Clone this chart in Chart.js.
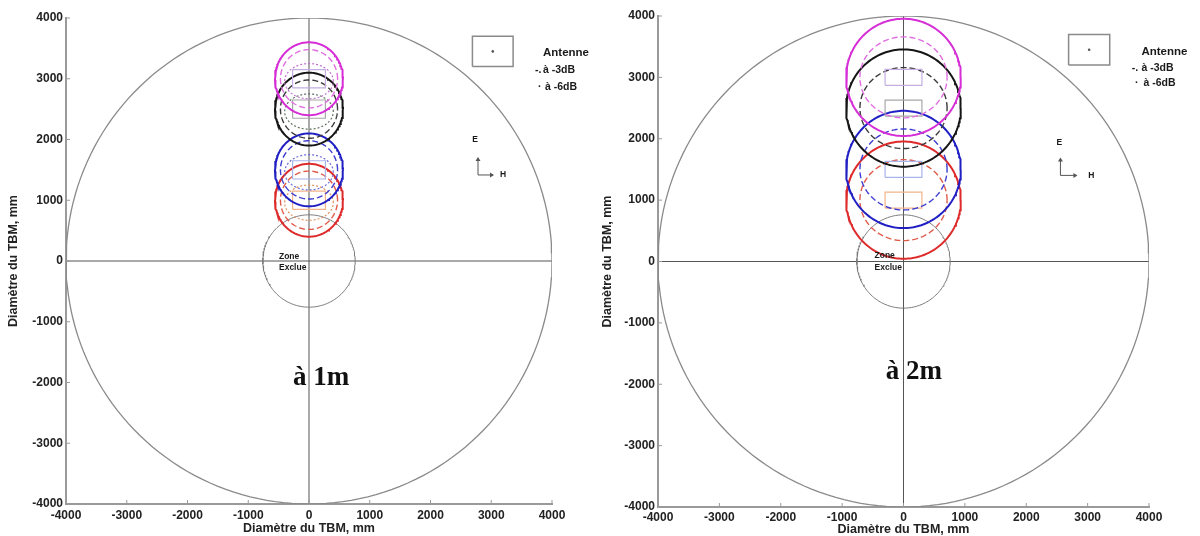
<!DOCTYPE html>
<html><head><meta charset="utf-8">
<script src="https://cdn.jsdelivr.net/npm/chart.js@4/dist/chart.umd.min.js"></script>
<style>
body{margin:0;background:#fff;width:1200px;height:536px;overflow:hidden;position:relative}
.p{position:absolute;top:0;width:600px;height:536px}
</style></head><body>
<div class="p" style="left:0"><canvas id="c0" width="600" height="536"></canvas></div>
<div class="p" style="left:600px"><canvas id="c1" width="600" height="536"></canvas></div>
<script>
// ---------- data ----------
const tickValues = [-4000, -3000, -2000, -1000, 0, 1000, 2000, 3000, 4000];
const panelTitles = ['à 1m', 'à 2m'];
const tbmRadius = 4000;                     // mm
const zoneRadius = 760;                     // mm, "Zone Exclue"
const antennaCentreY = [3000, 2500, 1500, 1000];   // mm
const lobeOuterRx = [560, 935];             // per panel (1m, 2m)
const lobeOuterRy = [600, 955];
const lobeMidRx = [470, 710];
const lobeMidRy = [480, 660];
const lobeInnerRx = [400, 0];
const lobeInnerRy = [290, 0];
const antennaHalfW = [270, 300];
const antennaHalfH = [150, 130];
const legendBoxX = [2690, 3360];
const legendBoxY = [3200, 3700];

// ---------- styles ----------
const solidColours = ['#d62ed6', '#151515', '#1f1fc4', '#de2a2a'];
const dashColours  = ['#e06ee0', '#3a3a3a', '#3c3cd0', '#e05a4a'];
const innerColours = ['#c070d0', '#607060', '#6a6ad8', '#e0905a'];
const boxColours   = ['#c4aee2', '#a8a8a8', '#a8b4ea', '#f2b48a'];
const layouts = [
  {padTop: 18, padRight: 48, yW: 66, xH: 32, yTitlePad: 6, xTitlePad: 0, xTickPad: 4},
  {padTop: 16, padRight: 51, yW: 58, xH: 29, yTitlePad: 0, xTitlePad: -1, xTickPad: 3}
];
const annotations = [
  {zone: [-494, 66, -115], big: [198, -2041], legend: [3852, 3424, 3144, 2864, 3720, 3770],
   eh: {E: [2733, 1992], corner: [2782, 1416], up: [2782, 1695], right: [3029, 1416], H: [3193, 1416]}},
  {zone: [-472, 98, -98], big: [171, -1909], legend: [3876, 3409, 3148, 2904, 3720, 3770],
   eh: {E: [2541, 1941], corner: [2557, 1403], up: [2557, 1680], right: [2818, 1403], H: [3062, 1403]}}
];

function ellipse(cx, cy, rx, ry) {
  const pts = [];
  for (let i = 0; i <= 180; i++) {
    const t = i / 180 * 2 * Math.PI;
    pts.push({x: cx + rx * Math.cos(t), y: cy + ry * Math.sin(t)});
  }
  return pts;
}
function rect(x0, x1, y0, y1) {
  return [{x: x0, y: y0}, {x: x1, y: y0}, {x: x1, y: y1}, {x: x0, y: y1}, {x: x0, y: y0}];
}
function lineDs(data, color, width, dash) {
  return {type: 'line', data, borderColor: color, borderWidth: width, borderDash: dash || [],
          pointRadius: 0, fill: false, tension: 0, showLine: true};
}

function buildDatasets(p) {
  const ds = [];
  antennaCentreY.forEach((cy, i) => {
    ds.push(lineDs(ellipse(0, cy, lobeOuterRx[p], lobeOuterRy[p]), solidColours[i], 2));
    ds.push(lineDs(ellipse(0, cy, lobeMidRx[p], lobeMidRy[p]), dashColours[i], 1.4, [6, 3]));
    if (lobeInnerRx[p] > 0)
      ds.push(lineDs(ellipse(0, cy - 40, lobeInnerRx[p], lobeInnerRy[p]), innerColours[i], 1.2, [2, 2]));
    ds.push(lineDs(rect(-antennaHalfW[p], antennaHalfW[p], cy - antennaHalfH[p], cy + antennaHalfH[p]), boxColours[i], 1.2));
  });
  ds.push(lineDs(ellipse(0, 0, zoneRadius, zoneRadius), '#7a7a7a', 1));
  ds.push(lineDs(ellipse(0, 0, tbmRadius, tbmRadius), '#8a8a8a', 1.3));
  ds.push(lineDs([{x: -4000, y: 0}, {x: 4000, y: 0}], '#555', 1));
  ds.push(lineDs([{x: 0, y: -4000}, {x: 0, y: 4000}], '#555', 1));
  ds.push(lineDs(rect(legendBoxX[0], legendBoxX[1], legendBoxY[0], legendBoxY[1]), '#8a8a8a', 1.5));
  ds.push({type: 'scatter', data: [{x: (legendBoxX[0] + legendBoxX[1]) / 2, y: (legendBoxY[0] + legendBoxY[1]) / 2}],
           pointRadius: 1.3, backgroundColor: '#555', borderWidth: 0});
  return ds;
}

const annotPlugin = {
  id: 'annot',
  afterDraw(chart) {
    const p = chart.options.plugins.annot.panel;
    const a = annotations[p];
    const xs = chart.scales.x, ys = chart.scales.y, ctx = chart.ctx;
    const X = v => xs.getPixelForValue(v), Y = v => ys.getPixelForValue(v);
    ctx.save();
    // inside ticks
    ctx.strokeStyle = '#999'; ctx.lineWidth = 1;
    tickValues.forEach(v => {
      ctx.beginPath(); ctx.moveTo(X(v), ys.bottom); ctx.lineTo(X(v), ys.bottom - 4); ctx.stroke();
      ctx.beginPath(); ctx.moveTo(xs.left, Y(v)); ctx.lineTo(xs.left + 4, Y(v)); ctx.stroke();
    });
    ctx.fillStyle = '#1a1a1a';
    ctx.textBaseline = 'middle'; ctx.textAlign = 'left';
    ctx.font = 'bold 8.5px "Liberation Sans", Arial, sans-serif';
    ctx.fillText('Zone', X(a.zone[0]), Y(a.zone[1]));
    ctx.fillText('Exclue', X(a.zone[0]), Y(a.zone[2]));
    ctx.font = 'bold 11.5px "Liberation Sans", Arial, sans-serif';
    ctx.fillText('Antenne', X(a.legend[0]), Y(a.legend[1]));
    ctx.font = 'bold 10.5px "Liberation Sans", Arial, sans-serif';
    ctx.fillText('à -3dB', X(a.legend[0]), Y(a.legend[2]));
    ctx.fillText('à -6dB', X(a.legend[0]) + 2, Y(a.legend[3]));
    ctx.fillText('-.', X(a.legend[4]), Y(a.legend[2]));
    ctx.fillText('·', X(a.legend[5]), Y(a.legend[3]));
    // E / H
    ctx.font = 'bold 8.5px "Liberation Sans", Arial, sans-serif';
    ctx.textAlign = 'center';
    ctx.fillText('E', X(a.eh.E[0]), Y(a.eh.E[1]));
    ctx.fillText('H', X(a.eh.H[0]), Y(a.eh.H[1]));
    ctx.strokeStyle = '#555'; ctx.lineWidth = 1;
    const cx = X(a.eh.corner[0]), cy = Y(a.eh.corner[1]);
    const ux = X(a.eh.up[0]), uy = Y(a.eh.up[1]);
    const rx = X(a.eh.right[0]), ry = Y(a.eh.right[1]);
    ctx.beginPath(); ctx.moveTo(ux, uy); ctx.lineTo(cx, cy); ctx.lineTo(rx, ry); ctx.stroke();
    ctx.fillStyle = '#555';
    ctx.beginPath(); ctx.moveTo(ux, uy - 1); ctx.lineTo(ux - 2.5, uy + 3); ctx.lineTo(ux + 2.5, uy + 3); ctx.fill();
    ctx.beginPath(); ctx.moveTo(rx + 1, ry); ctx.lineTo(rx - 3, ry - 2.5); ctx.lineTo(rx - 3, ry + 2.5); ctx.fill();
    // big label
    ctx.fillStyle = '#111';
    ctx.textAlign = 'center'; ctx.textBaseline = 'alphabetic';
    ctx.font = 'bold 27px "Liberation Serif", "Times New Roman", serif';
    ctx.fillText(panelTitles[p], X(a.big[0]), Y(a.big[1]));
    ctx.restore();
  }
};

function makeChart(p) {
  const L = layouts[p];
  const tickFont = {family: '"Liberation Sans", Arial, sans-serif', size: 12, weight: 'bold'};
  const titleFont = {family: '"Liberation Sans", Arial, sans-serif', size: 12.5, weight: 'bold'};
  const axisCommon = {
    type: 'linear', min: -4000, max: 4000,
    grid: {display: false, drawTicks: false},
    border: {display: true, color: '#9a9a9a', width: 2},
  };
  new Chart(document.getElementById('c' + p), {
    type: 'scatter',
    data: {datasets: buildDatasets(p)},
    options: {
      responsive: false, animation: false, devicePixelRatio: 1,
      layout: {padding: {top: L.padTop, right: L.padRight, left: 0, bottom: 0}},
      plugins: {legend: {display: false}, tooltip: {enabled: false}, annot: {panel: p}},
      scales: {
        x: Object.assign({}, axisCommon, {
          position: 'bottom',
          afterBuildTicks: s => { s.ticks = tickValues.map(v => ({value: v})); },
          ticks: {font: tickFont, color: '#222', padding: L.xTickPad, maxRotation: 0, autoSkip: false,
                  callback: v => String(v)},
          title: {display: true, text: 'Diamètre du TBM, mm', font: titleFont, color: '#222',
                  padding: {top: 0, bottom: L.xTitlePad}},
          afterFit: s => { s.height = L.xH; }
        }),
        y: Object.assign({}, axisCommon, {
          position: 'left',
          afterBuildTicks: s => { s.ticks = tickValues.map(v => ({value: v})); },
          ticks: {font: tickFont, color: '#222', padding: 3, autoSkip: false,
                  callback: v => String(v)},
          title: {display: true, text: 'Diamètre du TBM, mm', font: titleFont, color: '#222',
                  padding: {top: L.yTitlePad, bottom: 0}},
          afterFit: s => { s.width = L.yW; }
        })
      }
    },
    plugins: [annotPlugin]
  });
}
makeChart(0);
makeChart(1);
</script>
</body></html>
